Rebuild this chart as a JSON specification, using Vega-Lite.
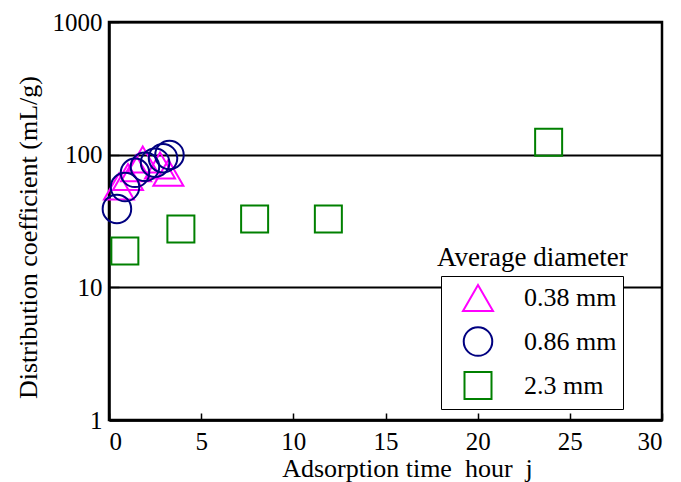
{
  "$schema": "https://vega.github.io/schema/vega-lite/v6.json",
  "width": 553,
  "height": 398,
  "autosize": {"type": "none"},
  "padding": {"left": 109, "top": 22, "right": 19, "bottom": 62},
  "background": "white",
  "config": {
    "font": "Liberation Serif",
    "view": {"stroke": "black", "strokeWidth": 2.5},
    "axis": {
      "domainColor": "black", "domainWidth": 2.5,
      "tickColor": "black", "tickWidth": 1.5,
      "labelColor": "black", "titleColor": "black",
      "labelFont": "Liberation Serif", "titleFont": "Liberation Serif",
      "labelFontSize": 25, "titleFontSize": 26, "titleFontWeight": "normal"
    }
  },
  "layer": [
    {
      "data": {"values": [
        {"d": "0.38 mm", "time": 0.54, "kd": 57.6},
        {"d": "0.38 mm", "time": 1.03, "kd": 68},
        {"d": "0.38 mm", "time": 1.47, "kd": 79},
        {"d": "0.38 mm", "time": 1.83, "kd": 92},
        {"d": "0.38 mm", "time": 2.77, "kd": 83},
        {"d": "0.38 mm", "time": 3.22, "kd": 73},
        {"d": "0.86 mm", "time": 0.43, "kd": 39},
        {"d": "0.86 mm", "time": 0.87, "kd": 57},
        {"d": "0.86 mm", "time": 1.41, "kd": 73},
        {"d": "0.86 mm", "time": 1.95, "kd": 81},
        {"d": "0.86 mm", "time": 2.5, "kd": 87},
        {"d": "0.86 mm", "time": 2.93, "kd": 94},
        {"d": "0.86 mm", "time": 3.28, "kd": 99.5},
        {"d": "2.3 mm", "time": 0.86, "kd": 18.8},
        {"d": "2.3 mm", "time": 3.9, "kd": 27.5},
        {"d": "2.3 mm", "time": 7.9, "kd": 32.8},
        {"d": "2.3 mm", "time": 11.9, "kd": 32.8},
        {"d": "2.3 mm", "time": 23.85, "kd": 124}
      ]},
      "mark": {"type": "point", "filled": false, "strokeWidth": 2, "opacity": 1},
      "encoding": {
        "x": {
          "field": "time", "type": "quantitative",
          "scale": {"domain": [0, 30], "nice": false},
          "axis": {
            "values": [0, 5, 10, 15, 20, 25, 30], "grid": false,
            "tickSize": -7, "labelPadding": 16,
            "title": "Adsorption time\u00a0 hour\u00a0 j",
            "titleX": 298, "titleY": 56, "titleBaseline": "alphabetic"
          }
        },
        "y": {
          "field": "kd", "type": "quantitative",
          "scale": {"type": "log", "domain": [1, 1000], "nice": false},
          "axis": {
            "values": [1, 10, 100, 1000], "format": "d",
            "grid": true, "gridColor": "black", "gridWidth": 1.8, "gridOpacity": 1,
            "tickSize": -10, "labelPadding": 17,
            "title": "Distribution coefficient (mL/g)", "titleY": 215,
            "titleX": -68, "titleBaseline": "bottom"
          }
        },
        "color": {
          "field": "d", "type": "nominal",
          "scale": {"domain": ["0.38 mm", "0.86 mm", "2.3 mm"], "range": ["#FF00FF", "#000080", "#008000"]},
          "legend": {
            "title": null, "orient": "none", "legendX": 332, "legendY": 254,
            "fillColor": "white", "strokeColor": "black",
            "padding": 6, "symbolOffset": 15, "labelOffset": 30, "rowPadding": 8,
            "labelFontSize": 26, "labelFont": "Liberation Serif", "labelColor": "black",
            "labelExpr": "datum.label + '\u2003'",
            "symbolStrokeWidth": 2
          }
        },
        "shape": {
          "field": "d", "type": "nominal",
          "scale": {"domain": ["0.38 mm", "0.86 mm", "2.3 mm"], "range": ["triangle-up", "circle", "square"]}
        },
        "size": {
          "field": "d", "type": "nominal",
          "scale": {"domain": ["0.38 mm", "0.86 mm", "2.3 mm"], "range": [900, 729, 529]}
        }
      }
    },
    {
      "data": {"values": [{"t": "Average diameter"}]},
      "mark": {"type": "text", "align": "left", "baseline": "alphabetic", "fontSize": 27, "font": "Liberation Serif", "color": "black"},
      "encoding": {
        "text": {"field": "t"},
        "x": {"datum": 17.8},
        "y": {"datum": 14.6}
      }
    }
  ]
}
